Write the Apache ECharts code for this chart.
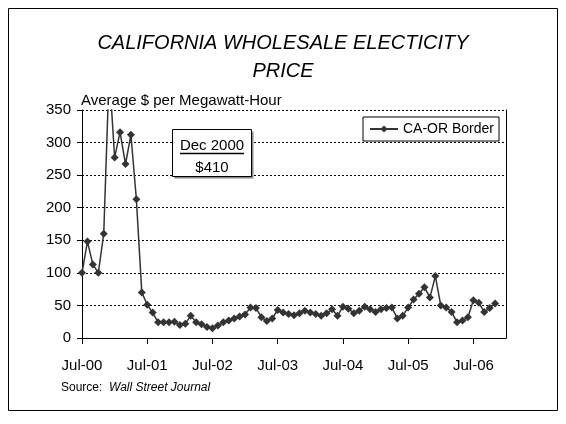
<!DOCTYPE html>
<html>
<head>
<meta charset="utf-8">
<script src="https://cdn.jsdelivr.net/npm/echarts@6/dist/echarts.min.js"></script>
<style>
  html, body { margin: 0; padding: 0; background: #fff; }
  #chart { width: 566px; height: 424px; }
</style>
</head>
<body>
<div id="chart"></div>
<script>
// monthly axis, Jul-2000 .. Jan-2007
var monthNames = ['Jan', 'Feb', 'Mar', 'Apr', 'May', 'Jun', 'Jul', 'Aug', 'Sep', 'Oct', 'Nov', 'Dec'];
var years = ['00', '01', '02', '03', '04', '05', '06', '07'];
var yTicks = [0, 50, 100, 150, 200, 250, 300, 350];

// CA-OR Border, average $ per MWh, Jul-00 .. Nov-06
var caorBorder = [
  100, 148, 113, 100, 160, 410, 277, 316, 267, 312, 213, 70,
  51, 39, 24, 24, 24, 25, 20, 22, 34, 24, 21, 17,
  15, 19, 24, 27, 30, 33, 36, 47, 46, 32, 26, 30,
  43, 39, 37, 35, 38, 42, 39, 37, 34, 38, 44, 34,
  48, 45, 38, 42, 48, 44, 40, 44, 46, 47, 30, 34,
  47, 59, 68, 78, 62, 95, 50, 47, 40, 24, 27, 32,
  58, 54, 40, 46, 53
];

var months = [];
for (var y = 0; y < years.length; y++) {
  for (var m = 0; m < 12; m++) {
    if (y === 0 && m < 6) continue;
    if (y === years.length - 1 && m > 0) continue;
    months.push(monthNames[m] + '-' + years[y]);
  }
}

var font = "'Liberation Sans', Arial, sans-serif";
var chart = echarts.init(document.getElementById('chart'));

var option = {
  backgroundColor: '#fff',
  animation: false,
  textStyle: { fontFamily: font, color: '#000' },
  title: {
    text: 'CALIFORNIA WHOLESALE ELECTICITY\nPRICE',
    left: 'center',
    top: 29,
    padding: 0,
    textStyle: { fontFamily: font, fontSize: 20, fontStyle: 'italic', fontWeight: 'normal', lineHeight: 28, color: '#000' }
  },
  legend: {
    data: ['CA-OR Border'],
    left: 363,
    top: 117,
    padding: [5, 5, 5, 6],
    itemWidth: 28,
    itemHeight: 9,
    borderColor: '#000',
    borderWidth: 1,
    backgroundColor: '#fff',
    textStyle: { fontFamily: font, fontSize: 14, color: '#000' }
  },
  grid: { left: 82, right: 60, top: 110, bottom: 86 },
  xAxis: {
    type: 'category',
    data: months,
    boundaryGap: false,
    axisLine: { lineStyle: { color: '#000', width: 1 } },
    axisTick: { length: 6, lineStyle: { color: '#000' }, interval: function (i) { return i % 12 === 0; } },
    axisLabel: { margin: 20, fontSize: 15, color: '#000', fontFamily: font, interval: function (i) { return i % 12 === 0; } },
    splitLine: { show: false }
  },
  yAxis: [{
    type: 'value',
    min: yTicks[0],
    max: yTicks[yTicks.length - 1],
    interval: 50,
    axisLine: { show: true, lineStyle: { color: '#000', width: 1 } },
    axisTick: { show: true, length: 5, lineStyle: { color: '#000' } },
    axisLabel: { margin: 11, fontSize: 15, color: '#000', fontFamily: font },
    splitLine: { show: true, lineStyle: { color: '#000', width: 1, type: [2, 2] } }
  }, {
    type: 'value',
    position: 'right',
    min: yTicks[0],
    max: yTicks[yTicks.length - 1],
    axisLine: { show: true, lineStyle: { color: '#000', width: 1 } },
    axisTick: { show: false },
    axisLabel: { show: false },
    splitLine: { show: false }
  }],
  series: [{
    name: 'CA-OR Border',
    type: 'line',
    data: caorBorder,
    clip: true,
    showAllSymbol: true,
    symbol: 'diamond',
    symbolSize: 8,
    itemStyle: { color: '#333' },
    lineStyle: { color: '#333', width: 1.5 }
  }]
};

chart.setOption(option);

// callout pointing at the clipped Dec 2000 spike
var top = chart.convertToPixel({ gridIndex: 0 }, [5, 350]);
chart.setOption({
  graphic: [
    { type: 'rect', shape: { x: 8.5, y: 8.5, width: 549, height: 402 }, style: { fill: null, stroke: '#000', lineWidth: 1 }, silent: true },
    { type: 'text', left: 81, top: 93, style: { text: 'Average $ per Megawatt-Hour', fontFamily: font, fontSize: 15, fill: '#000' } },
    { type: 'line', shape: { x1: top[0] + 12, y1: top[1], x2: 173, y2: 129.5 }, style: { stroke: '#000', lineWidth: 1 } },
    { type: 'rect', shape: { x: 174.5, y: 131.5, width: 79, height: 47 }, style: { fill: '#888', stroke: null } },
    { type: 'rect', shape: { x: 172.5, y: 129.5, width: 79, height: 47 }, style: { fill: '#fff', stroke: '#000', lineWidth: 1 } },
    { type: 'text', x: 212, y: 145.5, style: { text: 'Dec 2000', fontFamily: font, fontSize: 15, fill: '#000', align: 'center', verticalAlign: 'middle' } },
    { type: 'line', shape: { x1: 180, y1: 153.5, x2: 244, y2: 153.5 }, style: { stroke: '#000', lineWidth: 1.5 } },
    { type: 'text', x: 212, y: 168, style: { text: '$410', fontFamily: font, fontSize: 15, fill: '#000', align: 'center', verticalAlign: 'middle' } },
    { type: 'text', left: 61, top: 382, style: {
        text: '{a|Source:  }{b|Wall Street Journal}',
        rich: {
          a: { fontFamily: font, fontSize: 12, fill: '#000' },
          b: { fontFamily: font, fontSize: 12, fontStyle: 'italic', fill: '#000' }
        }
      } }
  ]
});
</script>
</body>
</html>
